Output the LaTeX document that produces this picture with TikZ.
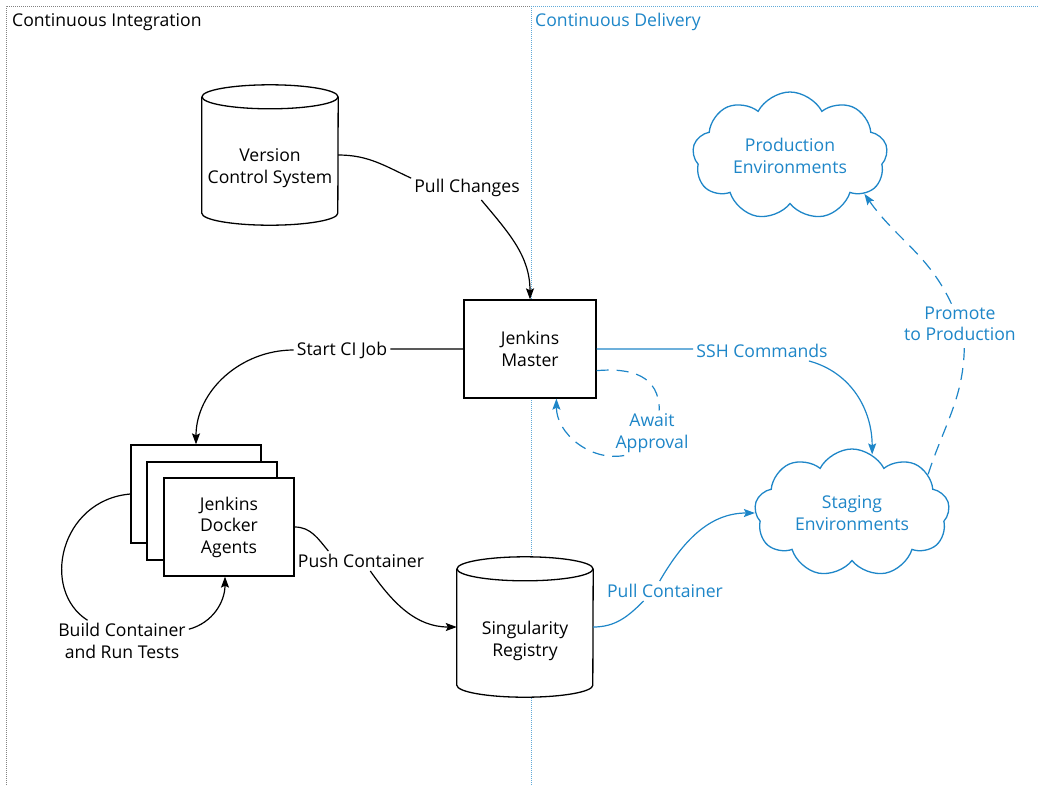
\documentclass[tikz,border=0pt]{standalone}
\usepackage{fontspec}
\setmainfont{Open Sans}
\usetikzlibrary{arrows.meta,shapes.symbols}
\definecolor{cdblue}{RGB}{30,134,200}
\definecolor{framegray}{RGB}{130,130,130}
\begin{document}
\begin{tikzpicture}[x=1pt,y=-1pt,
  txt/.style={font=\fontsize{17.6}{21.5}\selectfont, align=center, inner sep=3pt},
  lbl/.style={txt, fill=white},
  box/.style={txt, draw, line width=1.3pt, fill=white, minimum width=130pt, minimum height=98pt},
  cylnode/.style={minimum width=136pt, minimum height=140pt, inner sep=0pt},
  cyl/.style={line width=1.3pt},
  cloudnode/.style={txt, draw=cdblue, text=cdblue, line width=1.3pt, fill=white, cloud, cloud puffs=9, cloud puff arc=125, cloud ignores aspect, minimum width=195pt, minimum height=128pt},
  conn/.style={line width=1.2pt, -{Stealth[length=11pt,width=8pt,inset=2pt]}},
  bconn/.style={conn, draw=cdblue},
  dconn/.style={bconn, dash pattern=on 12pt off 8pt}
]
\useasboundingbox (0,0) rectangle (1038,785);
% frame
\draw[framegray, line width=0.9pt, dash pattern=on 1pt off 1pt] (6,785) -- (6,6) -- (531,6);
\draw[cdblue!70, line width=0.9pt, dash pattern=on 1pt off 1pt] (531,6) -- (1038,6) (531,6) -- (531,785);
\node[txt, anchor=west, inner sep=0pt] (hci) at (12,22) {Continuous Integration};
\node[txt, anchor=west, inner sep=0pt, text=cdblue] (hcd) at (535,22) {Continuous Delivery};

% version control system cylinder
\node[cylnode] (vcs) at (270,155) {};
\begin{scope}[cyl]
\fill[white] ([yshift=-12pt]vcs.north west) arc[start angle=180,end angle=0,x radius=68pt,y radius=12pt] -- ([yshift=12pt]vcs.south east) arc[start angle=0,end angle=-180,x radius=68pt,y radius=12pt] -- cycle;
\draw ([yshift=-12pt]vcs.north) ellipse[x radius=68pt,y radius=12pt];
\draw ([yshift=-12pt]vcs.north west) -- ([yshift=12pt]vcs.south west) arc[start angle=180,end angle=360,x radius=68pt,y radius=12pt] -- ([yshift=-12pt]vcs.north east);
\end{scope}
\node[txt] (vcstxt) at (270,168) {Version\\Control System};

% singularity cylinder
\node[cylnode] (sing) at (525,627) {};
\begin{scope}[cyl]
\fill[white] ([yshift=-12pt]sing.north west) arc[start angle=180,end angle=0,x radius=68pt,y radius=12pt] -- ([yshift=12pt]sing.south east) arc[start angle=0,end angle=-180,x radius=68pt,y radius=12pt] -- cycle;
\draw ([yshift=-12pt]sing.north) ellipse[x radius=68pt,y radius=12pt];
\draw ([yshift=-12pt]sing.north west) -- ([yshift=12pt]sing.south west) arc[start angle=180,end angle=360,x radius=68pt,y radius=12pt] -- ([yshift=-12pt]sing.north east);
\end{scope}
\node[txt] (singtxt) at (525,641) {Singularity\\Registry};

% Jenkins master
\node[box, minimum width=132pt] (master) at (530,349) {Jenkins\\Master};

% docker agents
\node[box] (back) at (196,494) {};
\node[box] (mid) at (212,511) {};
\node[box] (front) at (229,527) {Jenkins\\Docker\\Agents};

% clouds
\node[cloudnode] (prod) at (790,156) {Production\\Environments};
\node[cloudnode] (staging) at (852,513) {Staging\\Environments};

% labels
\node[lbl] (pc) at (467,188) {Pull Changes};
\node[lbl] (sci) at (342,350) {Start CI Job};
\node[lbl] (bct) at (122,641) {Build Container\\and Run Tests};
\node[lbl] (push) at (361,561) {Push Container};
\node[lbl, text=cdblue] (pullc) at (665,591) {Pull Container};
\node[lbl, text=cdblue] (ssh) at (762,351) {SSH Commands};
\node[lbl, text=cdblue] (aa) at (652,433) {Await\\Approval};
\node[lbl, text=cdblue] (ptp) at (960,324) {Promote\\to Production};

% connectors
\draw[conn] (vcs.east) to[out=0,in=155] (pc.170) (pc.-40) to[out=-50,in=90] (master.north);
\draw[conn] (master.west) -- (master.west -| sci.east) (sci.west) to[out=180,in=90] (back.north);
\draw[conn] (back.west) .. controls (60,500) and (40,590) .. (bct.149) (bct.10) to[out=15,in=-90] ([xshift=-4pt]front.south);
\draw[conn] (front.east) to[out=0,in=130] (push.163) (push.-47) to[out=-55,in=180] (sing.west);
\draw[bconn] (sing.east) to[out=0,in=-135] (pullc.-155) (pullc.118) to[out=60,in=180] (staging.west);
\draw[bconn] (master.east) -- (master.east -| ssh.west) (ssh.-12) to[out=-15,in=90] (staging.71);
\draw[dconn] (master.-18) to[out=5,in=90,looseness=1.2] (aa.72) (aa.-141) to[out=190,in=-90] (master.-62);
\draw[dconn] (staging.27) to[out=72,in=-90] (ptp.-78) (ptp.113) to[out=115,in=-55] (prod.-27);
\end{tikzpicture}
\end{document}
